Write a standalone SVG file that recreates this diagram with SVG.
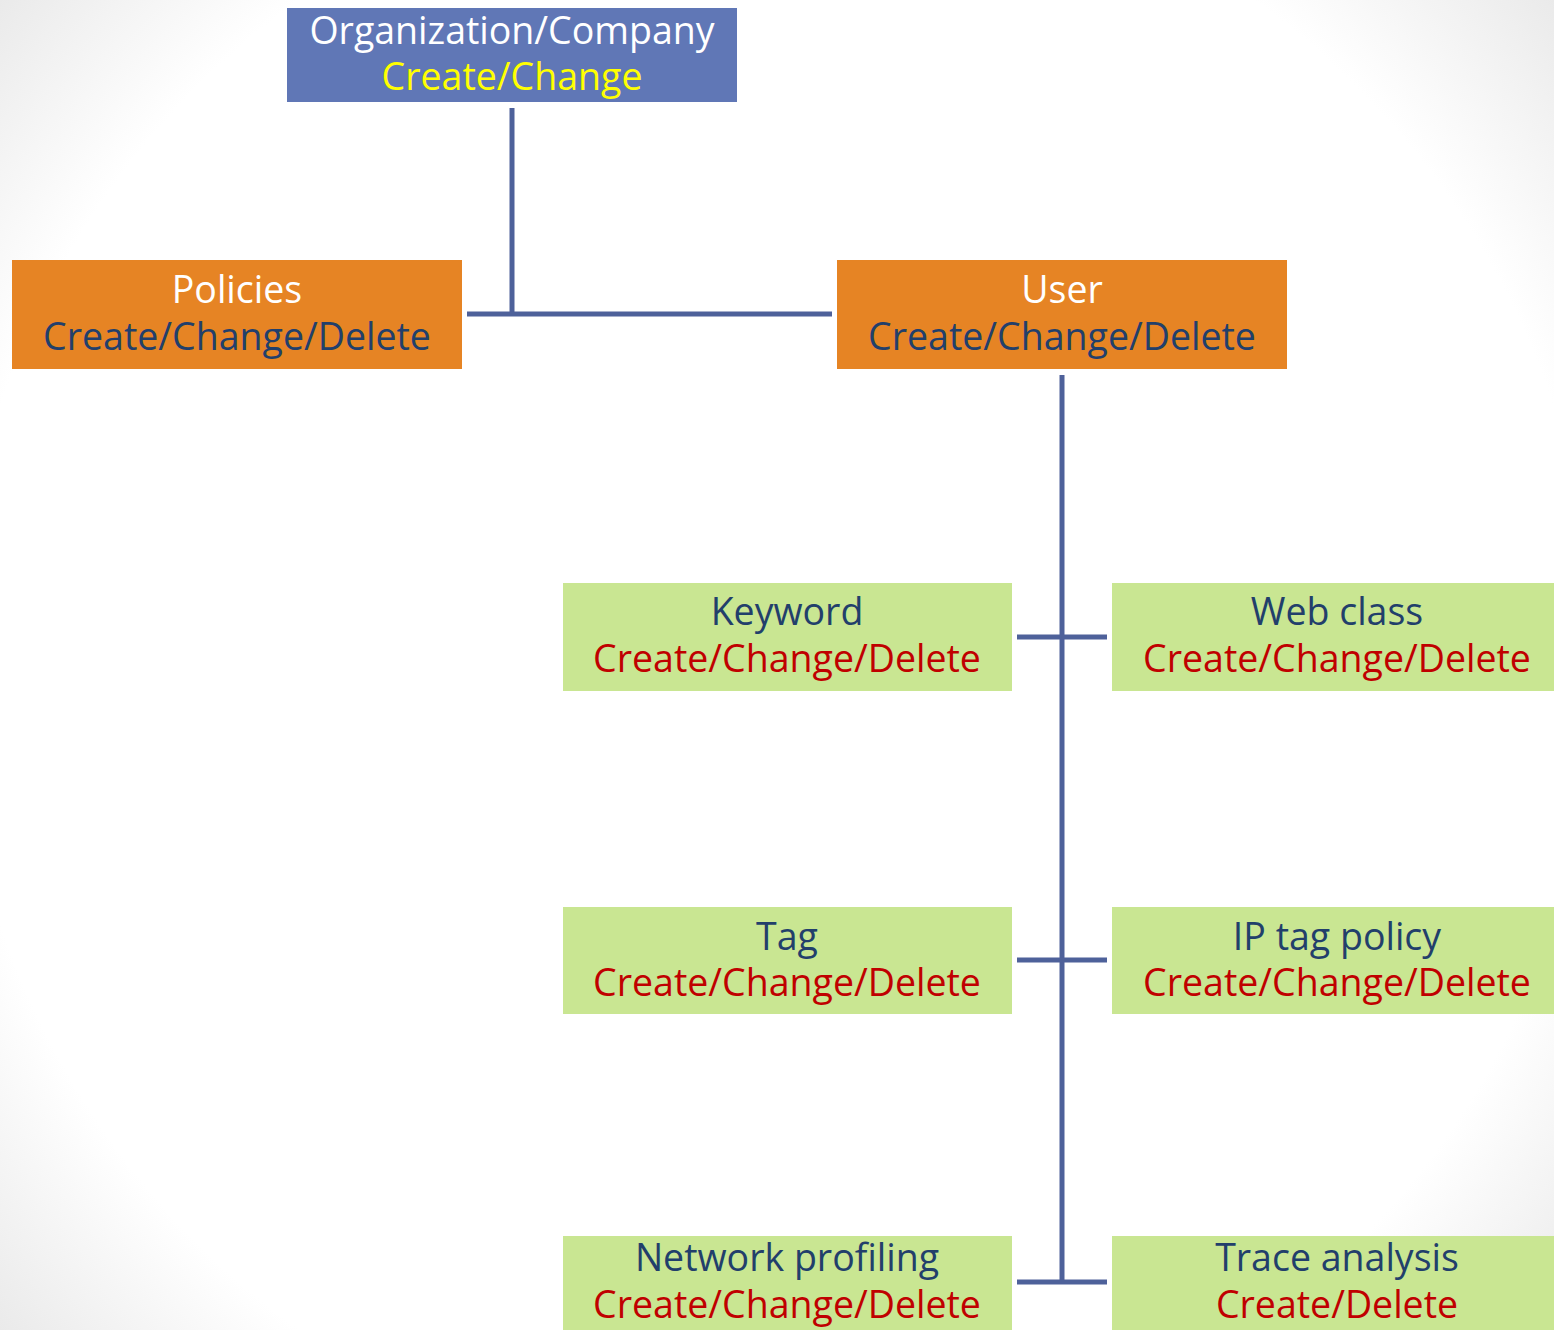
<svg xmlns="http://www.w3.org/2000/svg" width="1554" height="1330" viewBox="0 0 1554 1330">
<defs>
<radialGradient id="bg" gradientUnits="userSpaceOnUse" cx="777" cy="665" r="1023">
<stop offset="0.8" stop-color="#ffffff"/>
<stop offset="1" stop-color="#eaeaea"/>
</radialGradient>
</defs>
<style>
text{font-family:"Open Sans","Liberation Sans",sans-serif;font-size:37.5px;text-anchor:middle}
.org{fill:#6077b6}
.or{fill:#e68424}
.gr{fill:#c9e692}
.w{fill:#ffffff}
.y{fill:#ffff00}
.db{fill:#223f6b}
.rd{fill:#c00000}
.ln{stroke:#4e619a;stroke-width:5;fill:none}
</style>
<rect width="1554" height="1330" fill="url(#bg)"/>
<g id="connectors">
<line class="ln" x1="512" y1="108" x2="512" y2="316"/>
<line class="ln" x1="467" y1="314" x2="832" y2="314"/>
<line class="ln" x1="1062" y1="375" x2="1062" y2="1284"/>
<line class="ln" x1="1017" y1="637" x2="1107" y2="637"/>
<line class="ln" x1="1017" y1="960" x2="1107" y2="960"/>
<line class="ln" x1="1017" y1="1282" x2="1107" y2="1282"/>
</g>
<g id="org">
<rect class="org" x="287" y="8" width="450" height="94"/>
<text class="w" x="512" y="44">Organization/Company</text>
<text class="y" x="512" y="90">Create/Change</text>
</g>
<g id="policies">
<rect class="or" x="12" y="260" width="450" height="109"/>
<text class="w" x="237" y="303">Policies</text>
<text class="db" x="237" y="350">Create/Change/Delete</text>
</g>
<g id="user">
<rect class="or" x="837" y="260" width="450" height="109"/>
<text class="w" x="1062" y="303">User</text>
<text class="db" x="1062" y="350">Create/Change/Delete</text>
</g>
<g id="keyword">
<rect class="gr" x="563" y="583" width="449" height="108"/>
<text class="db" x="787" y="625">Keyword</text>
<text class="rd" x="787" y="672">Create/Change/Delete</text>
</g>
<g id="webclass">
<rect class="gr" x="1112" y="583" width="450" height="108"/>
<text class="db" x="1337" y="625">Web class</text>
<text class="rd" x="1337" y="672">Create/Change/Delete</text>
</g>
<g id="tag">
<rect class="gr" x="563" y="907" width="449" height="107"/>
<text class="db" x="787" y="950">Tag</text>
<text class="rd" x="787" y="996">Create/Change/Delete</text>
</g>
<g id="iptag">
<rect class="gr" x="1112" y="907" width="450" height="107"/>
<text class="db" x="1337" y="950">IP tag policy</text>
<text class="rd" x="1337" y="996">Create/Change/Delete</text>
</g>
<g id="netprof">
<rect class="gr" x="563" y="1236" width="449" height="100"/>
<text class="db" x="787" y="1271">Network profiling</text>
<text class="rd" x="787" y="1318">Create/Change/Delete</text>
</g>
<g id="trace">
<rect class="gr" x="1112" y="1236" width="450" height="100"/>
<text class="db" x="1337" y="1271">Trace analysis</text>
<text class="rd" x="1337" y="1318">Create/Delete</text>
</g>
</svg>
